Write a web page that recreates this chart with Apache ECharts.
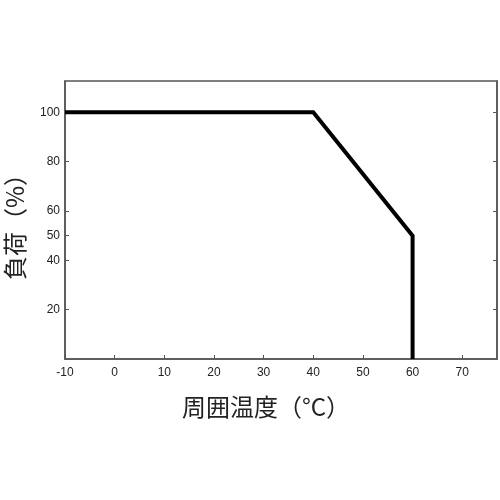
<!DOCTYPE html>
<html>
<head>
<meta charset="utf-8">
<script src="https://cdn.jsdelivr.net/npm/echarts@6/dist/echarts.min.js"></script>
<style>
  html, body { margin: 0; padding: 0; background: #fff; }
  #chart { width: 500px; height: 500px; }
</style>
</head>
<body>
<div id="chart"></div>
<script>
// 周囲温度 (°C) と負荷 (%) の点
var temps = [-10, 40, 60, 60];
var loads = [100, 100, 50, 0];
var yLabelValues = [20, 40, 50, 60, 80, 100];
var rightTickValues = [20, 40, 60, 80, 100];

var myChart = echarts.init(document.getElementById('chart'));

var lineData = [];
for (var i = 0; i < temps.length; i++) {
    lineData.push([temps[i], loads[i]]);
}

var axisColor = '#555';
var labelFont = 'Liberation Sans, Arial, sans-serif';
var cjkFont = '"Noto Sans CJK JP", sans-serif';

option = {
    animation: false,
    grid: {
        left: 65, right: 3, top: 81, bottom: 141,
        show: true,
        borderColor: axisColor,
        borderWidth: 1.5,
        containLabel: false,
        outerBoundsMode: 'none'
    },
    xAxis: {
        type: 'value',
        min: -10,
        max: 77,
        interval: 10,
        splitLine: {show: false},
        axisLine: {show: true, onZero: false, lineStyle: {color: axisColor, width: 1.5}},
        axisTick: {show: true, inside: true, length: 4, lineStyle: {color: axisColor}},
        axisLabel: {
            color: '#222', fontSize: 12, fontFamily: labelFont, margin: 8,
            showMaxLabel: false,
            formatter: function (v) { return v % 10 === 0 ? String(v) : ''; }
        },
        name: '周囲温度（°C）',
        nameLocation: 'middle',
        nameGap: 36,
        nameTextStyle: {
            color: '#222', fontSize: 24, fontFamily: cjkFont,
            padding: [0, 30, 0, 0]
        }
    },
    yAxis: [
        {
            type: 'value',
            min: 0,
            max: 112.7,
            splitLine: {show: false},
            axisLine: {show: true, onZero: false, lineStyle: {color: axisColor, width: 1.5}},
            axisTick: {show: true, inside: true, length: 4, customValues: yLabelValues, lineStyle: {color: axisColor}},
            axisLabel: {
                color: '#222', fontSize: 12, fontFamily: labelFont, margin: 5,
                customValues: yLabelValues
            },
            name: '負荷（%）',
            nameLocation: 'middle',
            nameGap: 38,
            nameRotate: 90,
            nameTextStyle: {
                color: '#222', fontSize: 24, fontFamily: cjkFont,
                padding: [0, 2, 0, 0]
            }
        },
        {
            type: 'value',
            position: 'right',
            min: 0,
            max: 112.7,
            splitLine: {show: false},
            axisLine: {show: true, onZero: false, lineStyle: {color: axisColor, width: 1.5}},
            axisTick: {show: true, inside: true, length: 4, customValues: rightTickValues, lineStyle: {color: axisColor}},
            axisLabel: {show: false}
        }
    ],
    series: [
        {
            type: 'line',
            data: lineData,
            yAxisIndex: 0,
            showSymbol: false,
            lineStyle: {color: '#000', width: 4, join: 'miter'},
            z: 3
        }
    ]
};

myChart.setOption(option);
</script>
</body>
</html>
